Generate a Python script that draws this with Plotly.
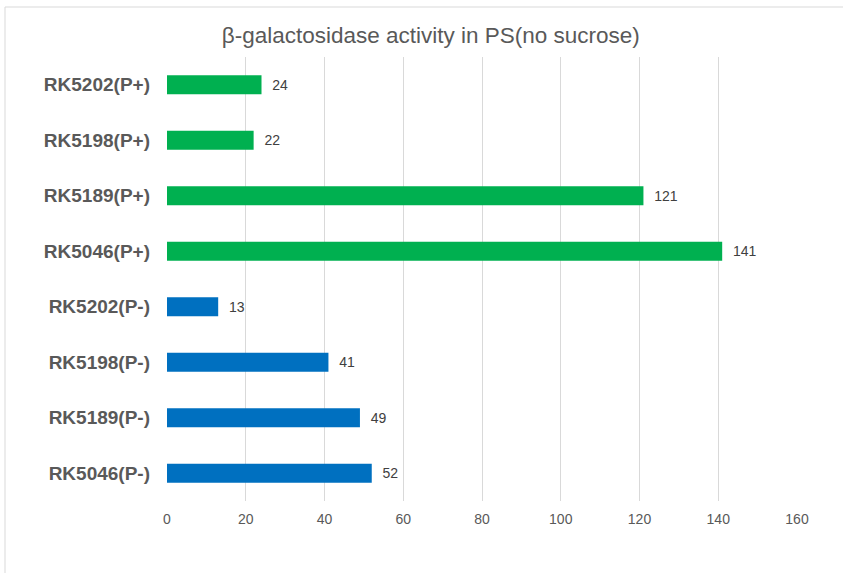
import plotly.graph_objects as go

categories = ["RK5046(P-)", "RK5189(P-)", "RK5198(P-)", "RK5202(P-)",
              "RK5046(P+)", "RK5189(P+)", "RK5198(P+)", "RK5202(P+)"]
values = [52, 49, 41, 13, 141, 121, 22, 24]
colors = ["#0070C0"] * 4 + ["#00B050"] * 4
x_ticks = [0, 20, 40, 60, 80, 100, 120, 140, 160]

fig = go.Figure(go.Bar(
    y=categories, x=values, orientation="h",
    marker=dict(color=colors, line=dict(width=0)),
    width=0.34,
    text=["\u00a0\u00a0" + str(v) for v in values], textposition="outside",
    textfont=dict(family="Liberation Sans, Arial", size=14, color="#404040"),
    cliponaxis=False,
))

fig.update_layout(
    width=843, height=573,
    margin=dict(l=167, r=46, t=57, b=72),
    paper_bgcolor="white", plot_bgcolor="white",
    showlegend=False,
    title=dict(text="β-galactosidase activity in PS(no sucrose)",
               x=0.511, xref="container", xanchor="center",
               y=1 - 35 / 573, yref="container", yanchor="middle",
               font=dict(family="Liberation Sans, Arial", size=22.5, color="#595959")),
    xaxis=dict(range=[0, 160], tickvals=x_ticks, showgrid=True,
               gridcolor="#D9D9D9", gridwidth=1, zeroline=False,
               showline=False, ticks="", ticklabelstandoff=8,
               tickfont=dict(family="Liberation Sans, Arial", size=14, color="#595959")),
    yaxis=dict(categoryorder="array", categoryarray=categories,
               showgrid=False, showline=False, ticks="", ticklabelstandoff=16,
               tickfont=dict(family="Liberation Sans, Arial", size=19,
                             color="#595959", weight="bold")),
    shapes=[
        dict(type="line", xref="paper", yref="paper",
             x0=(5 - 167) / 630, x1=(900 - 167) / 630,
             y0=(501 - 7) / 444, y1=(501 - 7) / 444,
             line=dict(color="#D9D9D9", width=1)),
        dict(type="line", xref="paper", yref="paper",
             x0=(5 - 167) / 630, x1=(5 - 167) / 630,
             y0=(501 - 7) / 444, y1=(501 - 600) / 444,
             line=dict(color="#D9D9D9", width=1)),
    ],
)

fig.write_html("out.html")
